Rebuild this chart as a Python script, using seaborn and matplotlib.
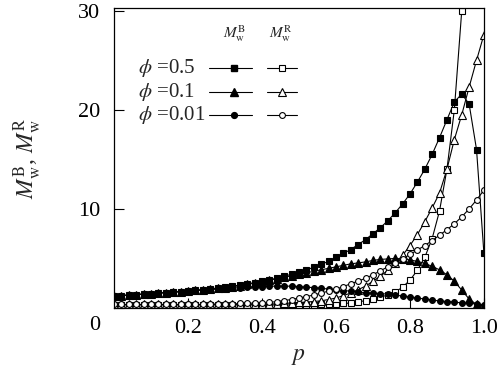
import numpy as np
import pandas as pd
import seaborn as sns
import matplotlib
matplotlib.use("Agg")
import matplotlib.pyplot as plt
import matplotlib.transforms as mtransforms

# conversion p (x axis)
p = [0.00, 0.02, 0.04, 0.06, 0.08, 0.10, 0.12, 0.14, 0.16, 0.18,
     0.20, 0.22, 0.24, 0.26, 0.28, 0.30, 0.32, 0.34, 0.36, 0.38,
     0.40, 0.42, 0.44, 0.46, 0.48, 0.50, 0.52, 0.54, 0.56, 0.58,
     0.60, 0.62, 0.64, 0.66, 0.68, 0.70, 0.72, 0.74, 0.76, 0.78,
     0.80, 0.82, 0.84, 0.86, 0.88, 0.90, 0.92, 0.94, 0.96, 0.98, 1.00]

# phi = 0.5
mb_05 = [1.20, 1.25, 1.30, 1.35, 1.40, 1.45, 1.50, 1.55, 1.60, 1.65,
         1.70, 1.80, 1.85, 1.95, 2.00, 2.10, 2.20, 2.30, 2.45, 2.55,
         2.70, 2.85, 3.00, 3.20, 3.40, 3.60, 3.85, 4.10, 4.40, 4.70,
         5.10, 5.50, 5.90, 6.40, 6.90, 7.50, 8.10, 8.80, 9.60, 10.5,
         11.5, 12.7, 14.0, 15.5, 17.2, 19.0, 20.8, 21.6, 20.6, 16.0, 5.5]
mr_05 = [0.30, 0.30, 0.30, 0.30, 0.30, 0.30, 0.30, 0.30, 0.30, 0.30,
         0.30, 0.30, 0.30, 0.30, 0.30, 0.30, 0.30, 0.30, 0.30, 0.30,
         0.30, 0.30, 0.30, 0.30, 0.30, 0.30, 0.30, 0.32, 0.35, 0.38,
         0.40, 0.45, 0.50, 0.60, 0.75, 0.90, 1.10, 1.30, 1.60, 2.10,
         2.80, 3.80, 5.10, 7.00, 9.80, 14.0, 20.0, 30.0, 45.0, 70.0, 100.0]

# phi = 0.1
mb_01 = [1.20, 1.25, 1.30, 1.35, 1.40, 1.45, 1.50, 1.55, 1.60, 1.65,
         1.70, 1.78, 1.84, 1.92, 1.98, 2.06, 2.15, 2.25, 2.38, 2.50,
         2.65, 2.80, 2.95, 3.10, 3.25, 3.40, 3.55, 3.70, 3.85, 4.00,
         4.15, 4.30, 4.45, 4.55, 4.65, 4.80, 4.90, 4.95, 5.00, 4.95,
         4.85, 4.70, 4.50, 4.20, 3.85, 3.35, 2.70, 1.80, 0.90, 0.35, 0.15]
mr_01 = [0.35, 0.35, 0.35, 0.35, 0.35, 0.35, 0.35, 0.35, 0.35, 0.35,
         0.35, 0.35, 0.35, 0.35, 0.35, 0.35, 0.35, 0.35, 0.35, 0.38,
         0.40, 0.40, 0.42, 0.45, 0.50, 0.55, 0.60, 0.65, 0.72, 0.85,
         1.00, 1.25, 1.50, 1.85, 2.20, 2.70, 3.20, 3.80, 4.50, 5.30,
         6.30, 7.40, 8.70, 10.1, 11.6, 14.0, 17.0, 19.5, 22.3, 25.0, 27.6]

# phi = 0.01
mb_001 = [1.20, 1.25, 1.30, 1.35, 1.40, 1.45, 1.50, 1.55, 1.60, 1.65,
          1.70, 1.75, 1.80, 1.85, 1.90, 1.95, 2.00, 2.05, 2.10, 2.15,
          2.15, 2.20, 2.20, 2.20, 2.20, 2.15, 2.10, 2.05, 2.00, 1.90,
          1.85, 1.75, 1.70, 1.60, 1.55, 1.50, 1.45, 1.40, 1.30, 1.20,
          1.10, 1.00, 0.90, 0.80, 0.70, 0.65, 0.60, 0.50, 0.45, 0.40, 0.30]
mr_001 = [0.35, 0.35, 0.35, 0.35, 0.35, 0.35, 0.35, 0.35, 0.35, 0.35,
          0.35, 0.35, 0.35, 0.40, 0.40, 0.40, 0.40, 0.45, 0.45, 0.50,
          0.50, 0.55, 0.65, 0.75, 0.85, 1.00, 1.15, 1.30, 1.50, 1.70,
          1.90, 2.15, 2.45, 2.70, 3.00, 3.35, 3.75, 4.15, 4.55, 4.95,
          5.40, 5.85, 6.30, 6.80, 7.35, 7.90, 8.50, 9.20, 10.0, 10.9, 11.9]

phi_labels = ["0.5", "0.1", "0.01"]

sns.set_style("ticks")
plt.rcParams["font.family"] = ["Liberation Serif", "DejaVu Serif"]
plt.rcParams["mathtext.fontset"] = "stix"

fig = plt.figure(figsize=(5.02, 3.76), dpi=100)
ax = fig.add_axes([0.227, 0.181, 0.737, 0.798])

# (values, marker, size, face) -- filled = M_B, open = M_R
series = [
    (mb_05, "s", 4.2, "black"), (mr_05, "s", 4.2, "white"),
    (mb_01, "^", 5.5, "black"), (mr_01, "^", 5.5, "white"),
    (mb_001, "o", 4.2, "black"), (mr_001, "o", 4.2, "white"),
]
for vals, mk, ms, fc in series:
    sns.lineplot(x=p, y=vals, ax=ax, color="black", linewidth=0.8,
                 marker=mk, markersize=ms, markerfacecolor=fc,
                 markeredgecolor="black", markeredgewidth=0.8, legend=False)

ax.set_xlim(0, 1.0)
ax.set_ylim(0, 30.3)
ax.set_xticks([0.2, 0.4, 0.6, 0.8, 1.0])
ax.set_xticklabels(["0.2", "0.4", "0.6", "0.8", "1.0"])
ax.set_yticks([0, 10, 20, 30])
ax.set_yticklabels(["0", "10", "20", "30"])
ax.tick_params(direction="in", length=7, width=0.8, labelsize=16, colors="black")
ax.tick_params(axis="y", pad=10)
ax.tick_params(axis="x", pad=8)
for s in ax.spines.values():
    s.set_linewidth(0.9)
    s.set_color("black")

# the "0" label sits lower than the axis
lab0 = ax.get_yticklabels()[0]
lab0.set_transform(lab0.get_transform() +
                   mtransforms.ScaledTranslation(0, -15 / 100, fig.dpi_scale_trans))

ax.set_xlabel("$p$", fontsize=17, labelpad=6)
ax.set_ylabel(r"$M_\mathrm{w}^\mathrm{B}$, $M_\mathrm{w}^\mathrm{R}$", fontsize=17, labelpad=24)

# hand-made legend table: rows phi, columns M_B / M_R
row_y = [0.80, 0.72, 0.643]
for (vals_b, mk, ms, _), lab, yy in zip(series[0::2], phi_labels, row_y):
    ax.text(0.065, yy, r"$\phi$ =" + lab, transform=ax.transAxes,
            fontsize=15, ha="left", va="center")
    ax.plot([0.258, 0.373], [yy, yy], color="black", lw=0.8, transform=ax.transAxes)
    ax.plot([0.325], [yy], color="black", marker=mk, ms=ms, mfc="black", mec="black",
            transform=ax.transAxes)
    ax.plot([0.414, 0.495], [yy, yy], color="black", lw=0.8, transform=ax.transAxes)
    ax.plot([0.454], [yy], color="black", marker=mk, ms=ms, mfc="white", mec="black",
            mew=0.8, transform=ax.transAxes)
ax.text(0.327, 0.915, r"$M_\mathrm{w}^\mathrm{B}$", transform=ax.transAxes,
        fontsize=11, ha="center", va="center")
ax.text(0.451, 0.915, r"$M_\mathrm{w}^\mathrm{R}$", transform=ax.transAxes,
        fontsize=11, ha="center", va="center")

fig.savefig("out.png", dpi=100)
